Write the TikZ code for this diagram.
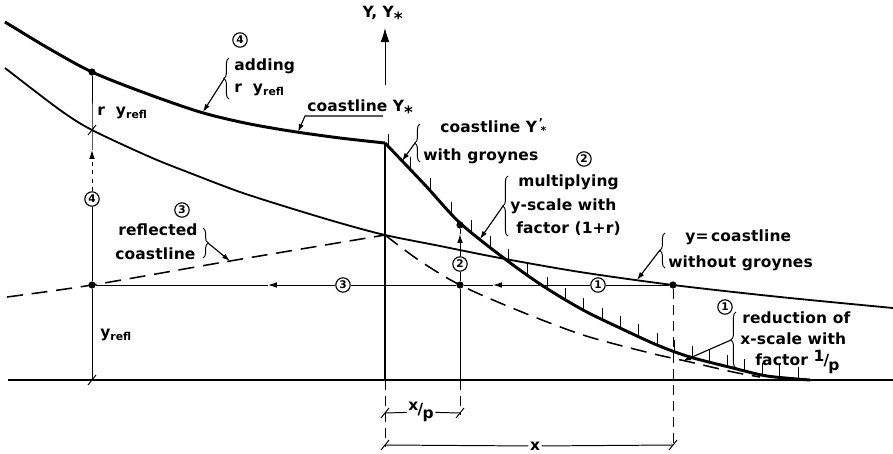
\documentclass[tikz,border=0pt]{standalone}
\usepackage{fontspec}
\setmainfont{DejaVu Sans}[LetterSpace=1]
\usetikzlibrary{positioning, arrows.meta, calc, decorations.pathreplacing, intersections}

\newcommand{\yrefl}{y\textsubscript{refl}}
\newcommand{\Ystar}{Y\textsubscript{\large*}}
\newcommand{\Ystarp}{Y\textsuperscript{\,'}\kern-.2em\textsubscript{*}}
\newcommand{\overp}[1]{\raisebox{.45ex}{#1}\kern-.05em/\kern-.05em\raisebox{-.55ex}{p}}

\begin{document}
\begin{tikzpicture}
    [
        x=0.25mm, y=-0.25mm,
        font=\fontsize{11}{13}\selectfont\bfseries,
        heavy/.style={line width=2.1pt, line join=round},
        medium/.style={line width=1.3pt},
        fine/.style={line width=0.7pt},
        dashcurve/.style={line width=1.1pt, dash pattern=on 4mm off 2.2mm},
        dimline/.style={line width=0.6pt, dash pattern=on 2.5mm off 1.5mm},
        num/.style={draw, circle, line width=0.8pt, fill=white, inner sep=0pt, minimum size=3.6mm, font=\fontsize{7.5}{8}\selectfont\bfseries},
        dot/.style={circle, fill, inner sep=0pt, minimum size=1.8mm},
        txt/.style={anchor=west, inner sep=0pt},
        lead/.style={line width=0.8pt, -{Latex[length=2mm, width=1.3mm]}},
        midarrow/.style={fine, -{Latex[length=2.2mm, width=1.4mm]}},
        cbrace/.style={line width=0.7pt, decorate, decoration={brace, amplitude=1.3mm}}
    ]
        \useasboundingbox (0,0) rectangle (893,453);
        % =========================================================================
        % POINTS
        % =========================================================================
        \coordinate (O) at (385,380);
        \coordinate (C) at (385,143);
        \coordinate (bl) at (8,380);
        \coordinate (br) at (893,380);
        \coordinate (axlow) at (385,85);
        \coordinate (axtop) at (385,28);
        \node[dot] (P1) at (673,285) {};
        \node[dot] (P2) at (460,285) {};
        \node[dot] (P3) at (92,285) {};
        \node[dot] (P2up) at (460,225) {};
        \node[dot] (P4up) at (92,72) {};
        \coordinate (P4lo) at (92,130);
        \coordinate (P3b) at (92,380);
        \coordinate (P2b) at (460,380);
        \coordinate (P2d) at (460,415);
        \coordinate (P1d) at (673,447);
        \coordinate (Od) at (385,447);

        % =========================================================================
        % CURVES
        % =========================================================================
        \draw[heavy] (bl) -- (br);
        \draw[heavy] (O) -- (C);
        \draw[fine, -{Latex[length=3.5mm, width=2.2mm]}] (axlow) -- (axtop);
        \node (axlbl) at (383,15) {Y, \Ystar};
        % coastline Y* (updrift, with reflection added)
        \draw[heavy] plot[smooth] coordinates {(5,22) (48,48) (92,72) (145,93) (200,112) (245,123) (290,131) (340,138) (385,143)};
        % coastline y without groynes
        \draw[medium] plot[smooth] coordinates {(5,68) (60,110) (92,130) (150,157) (190,173) (240,192) (290,208) (340,223) (385,235) (440,246) (500,258) (580,272) (673,285) (780,297) (893,308)};
        % reflected coastline
        \draw[dashcurve] plot[smooth] coordinates {(7,297) (92,285) (230,261) (385,235)};
        % reduced x-scale
        \draw[dashcurve] plot[smooth] coordinates {(385,235) (420,261) (460,285) (517,310) (583,335) (650,353) (690,362) (733,372) (760,377)};
        % coastline Y'* with groynes
        \draw[heavy, name path=grw] plot[smooth] coordinates {(385,143) (425,185) (460,223) (505,259) (543,286) (583,310) (620,328) (657,345) (690,357) (733,368) (767,376) (810,380)};
        \foreach \gx in {388,410,430,451,471,490,508,527,547,565,583,602,620,638,657,674,692,709,727,744,762,779,798} {
            \path[name path=vl] (\gx,100) -- (\gx,400);
            \draw[fine, name intersections={of=grw and vl, by=gt}] (gt) -- ++(0,-12);
        }

        % =========================================================================
        % CONSTRUCTION LINES
        % =========================================================================
        % --- step 1 and 3 ---
        \node[num] (n1b) at (598,285) {1};
        \node[num] (n3b) at (343,285) {3};
        \coordinate (a1) at (493,285);
        \coordinate (a3) at (268,285);
        \draw[fine] (P1) -- (n1b);
        \draw[midarrow] (n1b) -- (a1);
        \draw[fine] (a1) -- (P2) -- (n3b);
        \draw[midarrow] (n3b) -- (a3);
        \draw[fine] (a3) -- (P3);
        % --- step 2 ---
        \node[num] (n2b) at (460,264) {2};
        \coordinate (a2) at (460,234);
        \draw[fine] (P2b) -- (P2) -- (n2b);
        \draw[midarrow] (n2b) -- (a2);
        \draw[fine] (a2) -- (P2up);
        % --- step 4 ---
        \node[num] (n4b) at (92,199) {4};
        \coordinate (a4) at (92,150);
        \draw[fine] (P3b) -- (P3) -- (n4b);
        \draw[fine, dashed, -{Latex[length=2.2mm, width=1.4mm]}] (n4b) -- (a4);
        \draw[fine] (a4) -- (P4lo) -- (P4up);
        \node[txt] (ry) at (97,113) {r~~\yrefl};
        \node[txt] (yr) at (100,335) {\yrefl};
        % --- dimensions ---
        \draw[dimline] (O) -- (Od);
        \draw[dimline] (P2b) -- (P2d);
        \draw[dimline] (P1) -- (P1d);
        \coordinate (dxp1) at (385,413);
        \coordinate (dxp2) at (460,413);
        \coordinate (dx1) at (385,445);
        \coordinate (dx2) at (673,445);
        \node[fill=white, inner sep=1pt] (xp) at (421,412) {\overp{x}};
        \node[fill=white, inner sep=1pt] (xl) at (535,446) {x};
        \draw[fine] (dxp1) -- (xp) -- (dxp2);
        \draw[fine] (dx1) -- (xl) -- (dx2);
        \foreach \m in {dxp1,dxp2,dx1,dx2,P4lo,P3b}
            \draw[fine] ($(\m)+(-4,5)$) -- ($(\m)+(4,-5)$);

        % =========================================================================
        % LABELS
        % =========================================================================
        % --- adding r y_refl ---
        \node[num] (n4a) at (240,40) {4};
        \node[txt] (tadd1) at (234,66) {adding};
        \node[txt] (tadd2) at (234,90) {r~~\yrefl};
        \draw[cbrace] (229,99) -- (229,58);
        \coordinate (b4) at (224,79);
        \coordinate (u4) at (203,112);
        \draw[lead] (b4) -- (u4);
        % --- coastline Y* ---
        \node[txt, anchor=base west] (tys) at (307,111) {coastline \Ystar};
        \coordinate (kys) at (305,116);
        \coordinate (kys2) at (383,116);
        \coordinate (uys) at (298,132);
        \draw[lead] (kys2) -- (kys) -- (uys);
        % --- coastline Y'* with groynes ---
        \node[txt, anchor=base west] (tgr1) at (440,132) {coastline \Ystarp};
        \node[txt] (tgr2) at (423,156) {with groynes};
        \draw[cbrace] (420,162) -- (420,124);
        \coordinate (bgr) at (415,143);
        \coordinate (ugr) at (402,161);
        \draw[lead] (bgr) -- (ugr);
        % --- multiplying ---
        \node[num] (n2a) at (584,159) {2};
        \node[txt] (tm1) at (518,182) {multiplying};
        \node[txt] (tm2) at (510,206) {y-scale with};
        \node[txt] (tm3) at (516,229) {factor (1+r)};
        \draw[cbrace] (508,236) -- (508,176);
        \coordinate (bm) at (503,206);
        \coordinate (um) at (480,239);
        \draw[lead] (bm) -- (um);
        % --- y = coastline ---
        \node[txt] (ty1) at (685,237) {y=\,coastline};
        \node[txt] (ty2) at (668,263) {without groynes};
        \draw[cbrace] (665,268) -- (665,233);
        \coordinate (by) at (660,250);
        \coordinate (uy) at (637,280);
        \draw[lead] (by) -- (uy);
        % --- reduction ---
        \node[num] (n1a) at (725,307) {1};
        \node[txt] (tr1) at (742,318) {reduction of};
        \node[txt] (tr2) at (740,339) {x-scale with};
        \node[txt] (tr3) at (755,362) {factor \overp{1}};
        \draw[cbrace] (736,368) -- (736,312);
        \coordinate (brd) at (731,340);
        \coordinate (urd) at (683,361);
        \draw[lead] (brd) -- (urd);
        % --- reflected coastline ---
        \node[num] (n3a) at (182,210) {3};
        \node[txt] (tf1) at (118,230) {reflected};
        \node[txt] (tf2) at (115,254) {coastline};
        \draw[cbrace] (203,228) -- (203,258);
        \coordinate (bf) at (208,243);
        \coordinate (uf) at (230,261);
        \draw[lead] (bf) -- (uf);
    \end{tikzpicture}
\end{document}
